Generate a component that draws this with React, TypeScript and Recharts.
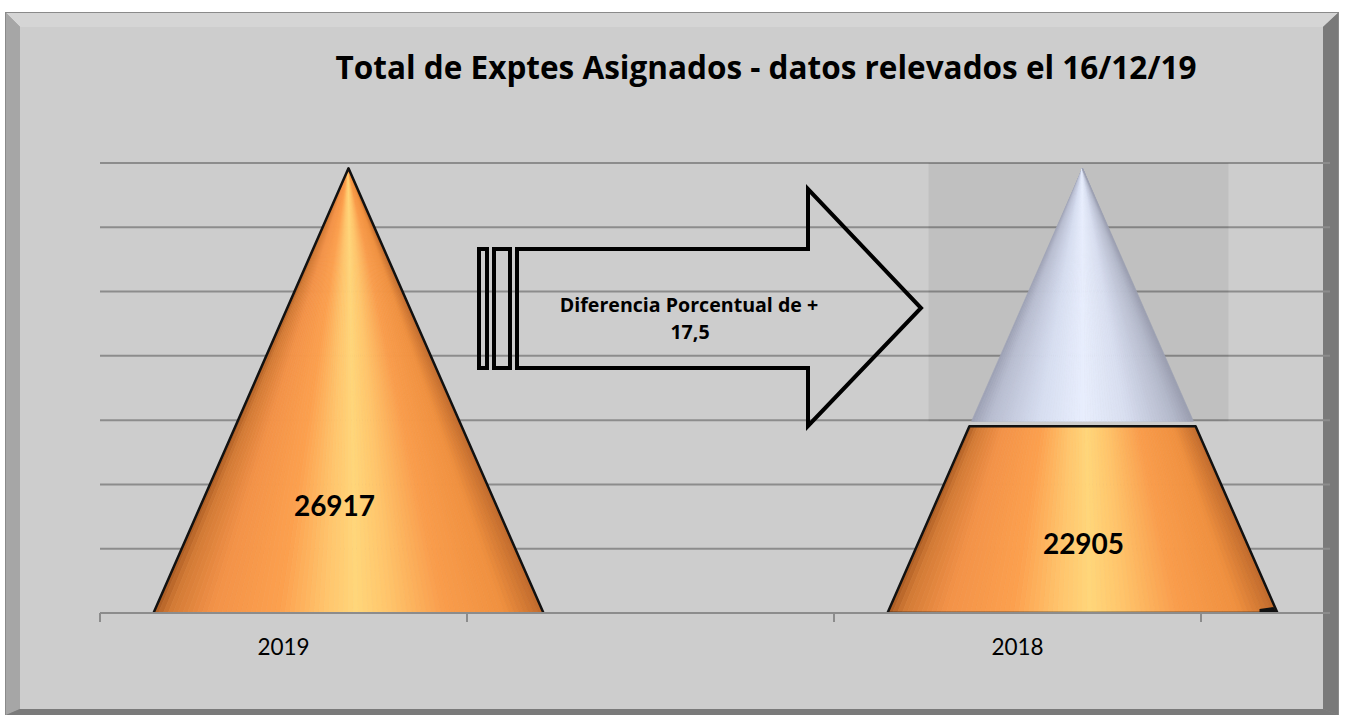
import React from "react";
import { ComposedChart, Bar, XAxis, YAxis, CartesianGrid, LabelList } from "recharts";

// ---- data ----
const years = ["2019", "", "2018"];
const asignados: (number | null)[] = [26917, null, 22905];
const restante: (number | null)[] = [0, null, 4012];
const yTicks = [20000, 21000, 22000, 23000, 24000, 25000, 26000, 27000];
const titleText = "Total de Exptes Asignados - datos relevados el 16/12/19";
const arrowLines = ["Diferencia Porcentual de +", "17,5"];

const data = years.map((year, i) => ({ year, value: asignados[i], rest: restante[i] }));

// ---- layout / style constants ----
const W = 1345;
const H = 715;
const PLOT_LEFT = 100;
const PLOT_RIGHT_MARGIN = 15;
const PLOT_TOP = 163;
const XAXIS_H = 102;
const AXIS_PAD_RIGHT = 129;
const BAND = (W - PLOT_LEFT - PLOT_RIGHT_MARGIN - AXIS_PAD_RIGHT) / years.length;
const DEPTH_SHIFT = 65;
const CONE_HW = 195;
const Y_MIN = yTicks[0];
const Y_MAX = yTicks[yTicks.length - 1];
const FONT = "Lato, 'Open Sans', sans-serif";
const FONT2 = "'Open Sans', Lato, sans-serif";
const GRID = "#8C8C8C";

type Stop = [number, string];
const ORANGE: Stop[] = [
  [0, "#A85A22"],
  [0.04, "#D27A35"],
  [0.15, "#F39248"],
  [0.32, "#FCA04E"],
  [0.44, "#FFC46C"],
  [0.52, "#FFD67A"],
  [0.6, "#FFC66C"],
  [0.75, "#F99C4C"],
  [0.9, "#F0903F"],
  [1, "#C06A2C"],
];
const BLUE: Stop[] = [
  [0, "#9DA1B4"],
  [0.08, "#B8BDD0"],
  [0.3, "#D6DDF0"],
  [0.5, "#E8EEFD"],
  [0.7, "#D8DEF0"],
  [0.92, "#B3B8CA"],
  [1, "#9A9EB0"],
];

function hex(c: string) {
  return [1, 3, 5].map((i) => parseInt(c.slice(i, i + 2), 16));
}
function colorAt(stops: Stop[], t: number) {
  for (let i = 0; i < stops.length - 1; i++) {
    const [t0, c0] = stops[i];
    const [t1, c1] = stops[i + 1];
    if (t >= t0 && t <= t1) {
      const f = (t - t0) / (t1 - t0 || 1);
      const a = hex(c0);
      const b = hex(c1);
      const m = a.map((v, j) => Math.round(v + (b[j] - v) * f));
      return `rgb(${m[0]},${m[1]},${m[2]})`;
    }
  }
  return stops[stops.length - 1][1];
}

function fan(cx: number, yTop: number, hwTop: number, yBot: number, hwBot: number, stops: Stop[], key: string) {
  const n = 80;
  const out: React.ReactNode[] = [];
  for (let i = 0; i < n; i++) {
    const t0 = i / n;
    const t1 = (i + 1) / n;
    const tx0 = cx - hwTop + 2 * hwTop * t0;
    const tx1 = cx - hwTop + 2 * hwTop * t1;
    const bx0 = cx - hwBot + 2 * hwBot * t0;
    const bx1 = cx - hwBot + 2 * hwBot * t1;
    const col = colorAt(stops, (t0 + t1) / 2);
    out.push(
      <polygon
        key={`${key}-${i}`}
        points={`${tx0},${yTop} ${tx1},${yTop} ${bx1},${yBot} ${bx0},${yBot}`}
        fill={col}
        stroke={col}
        strokeWidth={0.7}
      />
    );
  }
  return out;
}

function ConeShape(props: any) {
  const { x, y, width, height, payload } = props;
  if (payload == null || payload.value == null) return null;
  const k = height / (payload.value - Y_MIN);
  const base = y + height;
  const apexY = base - (payload.value + (payload.rest || 0) - Y_MIN) * k;
  const cx = x + width / 2 + DEPTH_SHIFT;
  const hwAt = (yy: number) => (CONE_HW * (yy - apexY)) / (base - apexY);

  if (payload.rest && payload.rest > 0) {
    const plotTop = base - (Y_MAX - Y_MIN) * k;
    const blueBottom = y - 5;
    const hwTop = hwAt(y);
    return (
      <g>
        <rect x={cx - 154} y={plotTop} width={300} height={blueBottom - plotTop} fill="rgba(0,0,0,0.06)" />
        {fan(cx, apexY, 0, blueBottom, hwAt(blueBottom), BLUE, "b")}
        {fan(cx, y, hwTop, base, CONE_HW, ORANGE, "o")}
        <path
          d={`M${cx - CONE_HW},${base} L${cx - hwTop},${y} L${cx + hwTop},${y} L${cx + CONE_HW},${base} Z`}
          fill="none"
          stroke="#111"
          strokeWidth={2.5}
          strokeLinejoin="round"
        />
        <path
          d={`M${cx + CONE_HW - 18},${base - 4} L${cx + CONE_HW - 4},${base - 6} L${cx + CONE_HW + 1},${base + 3} L${cx + CONE_HW - 18},${base + 3} Z`}
          fill="#111"
        />
      </g>
    );
  }
  return (
    <g>
      {fan(cx, apexY, 0, base, CONE_HW, ORANGE, "o")}
      <path
        d={`M${cx - CONE_HW},${base} L${cx},${apexY} L${cx + CONE_HW},${base}`}
        fill="none"
        stroke="#111"
        strokeWidth={2.5}
        strokeLinejoin="round"
      />
      <line x1={cx - CONE_HW} y1={base} x2={cx + CONE_HW} y2={base} stroke="#444" strokeWidth={2} />
    </g>
  );
}

// label offsets (relative to band center / base) — manual placement in the original
const LABEL_OFFSETS: Record<string, { dx: number; dy: number }> = {
  first: { dx: 51, dy: -108 },
  other: { dx: 66, dy: -70 },
};

function ValueLabel(props: any) {
  const { x, y, width, height, value, index } = props;
  if (value == null) return null;
  const off = index === 0 ? LABEL_OFFSETS.first : LABEL_OFFSETS.other;
  return (
    <text
      x={x + width / 2 + off.dx}
      y={y + height + off.dy}
      textAnchor="middle"
      dominantBaseline="central"
      fontFamily={FONT}
      fontWeight={700}
      fontSize={28}
      fill="#000"
    >
      {value}
    </text>
  );
}

function YearTick(props: any) {
  const { x, y, payload, index, visibleTicksCount } = props;
  const last = index === (visibleTicksCount ?? years.length) - 1;
  return (
    <g>
      <line x1={x - BAND / 2} y1={y} x2={x - BAND / 2} y2={y + 9} stroke={GRID} strokeWidth={2} />
      {last && <line x1={x + BAND / 2} y1={y} x2={x + BAND / 2} y2={y + 9} stroke={GRID} strokeWidth={2} />}
      <text x={x} y={y + 42} textAnchor="middle" fontFamily={FONT} fontSize={22.5} fill="#000">
        {payload.value}
      </text>
    </g>
  );
}

function EmptyTick() {
  return <g />;
}

function Frame() {
  return (
    <svg width={W} height={H} style={{ position: "absolute", left: 0, top: 0 }}>
      <rect x={0} y={0} width={W} height={H} fill="#FFFFFF" />
      <rect x={5} y={12} width={1334} height={703} fill="#8A8A8A" />
      <polygon points="6,13 1338,13 1323,27 20,27" fill="#D5D5D5" />
      <polygon points="6,13 20,27 20,709 6,715" fill="#A6A6A6" />
      <polygon points="1338,13 1338,715 1323,709 1323,27" fill="#7A7A7A" />
      <polygon points="6,715 20,709 1323,709 1338,715" fill="#7A7A7A" />
      <rect x={20} y={27} width={1303} height={682} fill="#CDCDCD" />
    </svg>
  );
}

function Overlay() {
  return (
    <svg width={W} height={H} style={{ position: "absolute", left: 0, top: 0, pointerEvents: "none" }}>
      <text x={766} y={79} textAnchor="middle" fontFamily={FONT2} fontWeight={700} fontSize={31.5} fill="#000">
        {titleText}
      </text>
      <g fill="none" stroke="#000" strokeWidth={4} strokeLinejoin="miter">
        <rect x={479} y={249} width={8} height={119} />
        <rect x={494} y={249} width={16} height={119} />
        <polygon points="517,249 808,249 808,189 921,308 808,426 808,368 517,368" />
      </g>
      <text x={689} y={312} textAnchor="middle" fontFamily={FONT2} fontWeight={700} fontSize={19.6} fill="#000">
        {arrowLines[0]}
      </text>
      <text x={690} y={339} textAnchor="middle" fontFamily={FONT2} fontWeight={700} fontSize={19.6} fill="#000">
        {arrowLines[1]}
      </text>
    </svg>
  );
}

export default function App() {
  return (
    <div style={{ position: "relative", width: W, height: H }}>
      <style>{`body{margin:0;}`}</style>
      <Frame />
      <div style={{ position: "absolute", left: 0, top: 0 }}>
        <ComposedChart
          width={W}
          height={H}
          data={data}
          margin={{ top: PLOT_TOP, right: PLOT_RIGHT_MARGIN, left: PLOT_LEFT, bottom: 0 }}
          barCategoryGap={0}
          barGap={0}
        >
          <CartesianGrid vertical={false} stroke={GRID} strokeWidth={2} />
          <YAxis
            type="number"
            domain={[Y_MIN, Y_MAX]}
            ticks={yTicks}
            interval={0}
            width={0}
            tick={<EmptyTick />}
            axisLine={false}
            tickLine={false}
            allowDataOverflow
          />
          <XAxis
            dataKey="year"
            type="category"
            interval={0}
            padding={{ left: 0, right: AXIS_PAD_RIGHT }}
            axisLine={{ stroke: GRID, strokeWidth: 2 }}
            tickLine={false}
            tickSize={0}
            tickMargin={0}
            height={XAXIS_H}
            tick={<YearTick />}
          />
          <Bar dataKey="value" isAnimationActive={false} shape={<ConeShape />}>
            <LabelList dataKey="value" content={<ValueLabel />} />
          </Bar>
        </ComposedChart>
      </div>
      <Overlay />
    </div>
  );
}
